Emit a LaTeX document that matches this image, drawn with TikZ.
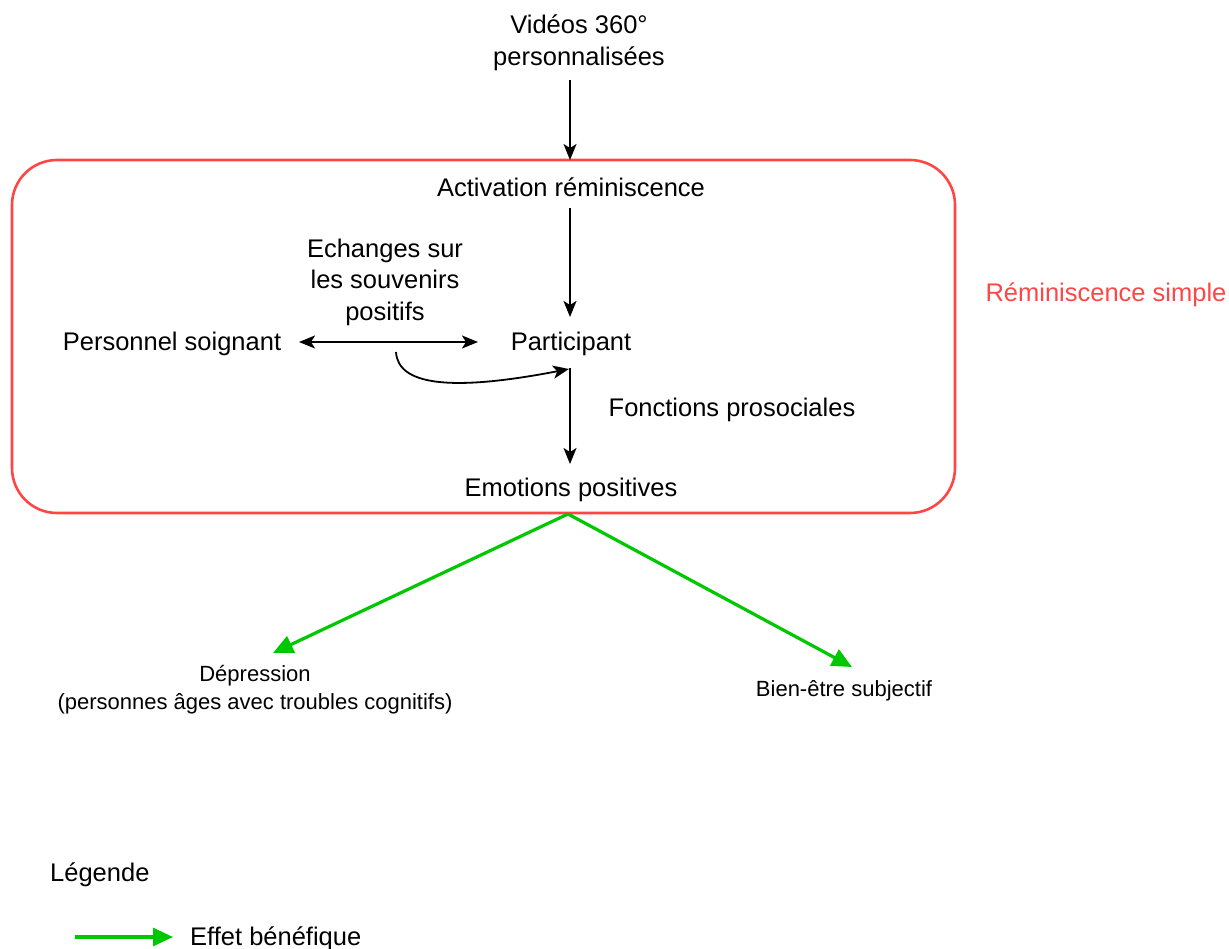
\documentclass[tikz,border=0pt]{standalone}
\usepackage{fontspec}
\setmainfont{Liberation Sans}
\usetikzlibrary{arrows.meta}
\definecolor{boxred}{RGB}{255,70,70}
\definecolor{effgreen}{RGB}{0,200,0}
\tikzset{
  lbl/.style={inner sep=0pt, align=center, font=\fontsize{25.5}{31.5}\selectfont},
  smalllbl/.style={inner sep=0pt, align=center, font=\fontsize{22}{28}\selectfont},
  blackarrow/.style={draw=black, line width=1.8pt, -{Stealth[length=16pt,width=13pt,inset=4pt]}},
  greenarrow/.style={draw=effgreen, line width=3.2pt, -{Triangle[length=20pt,width=18pt]}},
}
\begin{document}
\begin{tikzpicture}[x=1pt,y=-1pt]
\useasboundingbox (0,0) rectangle (1229,949);
% red box
\draw[boxred, line width=2.6pt, rounded corners=45pt] (12,160) rectangle (955,513);
\node[lbl, text=boxred] (rs) at (1106,295) {Réminiscence simple};

\node[lbl] (vid) at (579,43) {Vidéos 360°\\personnalisées};
\node[lbl] (act) at (571,187) {Activation réminiscence};
\node[lbl] (part) at (571,344) {Participant};
\node[lbl] (pers) at (172,344) {Personnel soignant};
\node[lbl] (ech) at (385,282) {Echanges sur\\les souvenirs\\positifs};
\node[lbl] (fonc) at (732,410) {Fonctions prosociales};
\node[lbl] (emo) at (571,490) {Emotions positives};
\node[smalllbl] (dep) at (255,690) {Dépression\\(personnes âges avec troubles cognitifs)};
\node[smalllbl] (bien) at (844,691) {Bien-être subjectif};
\node[lbl, anchor=west] (leg) at (50,875) {Légende};
\node[lbl, anchor=west] (eff) at (190,939) {Effet bénéfique};

\coordinate (vtop) at (570,80);
\coordinate (vbot) at (570,160);
\coordinate (atop) at (570,208);
\coordinate (abot) at (570,317);
\coordinate (dl) at (299,342);
\coordinate (dr) at (478,342);
\coordinate (cs) at (396,352);
\coordinate (ce) at (569,369);
\coordinate (ptop) at (570,368);
\coordinate (pbot) at (570,464);
\coordinate (eb) at (568,514);
\coordinate (dep1) at (273,653);
\coordinate (bien1) at (852,667);
\coordinate (l1) at (75,937);
\coordinate (l2) at (173,937);

\draw[blackarrow] (vtop) -- (vbot);
\draw[blackarrow] (atop) -- (abot);
\draw[blackarrow, {Stealth[length=16pt,width=13pt,inset=4pt]}-{Stealth[length=16pt,width=13pt,inset=4pt]}] (dl) -- (dr);
\draw[blackarrow] (cs) .. controls (398,385) and (450,392) .. (ce);
\draw[black, line width=1.8pt] (ptop) -- (570,380);
\draw[blackarrow] (570,370) -- (pbot);
\draw[greenarrow] (eb) -- (dep1);
\draw[greenarrow] (eb) -- (bien1);
\draw[greenarrow] (l1) -- (l2);
\end{tikzpicture}
\end{document}
